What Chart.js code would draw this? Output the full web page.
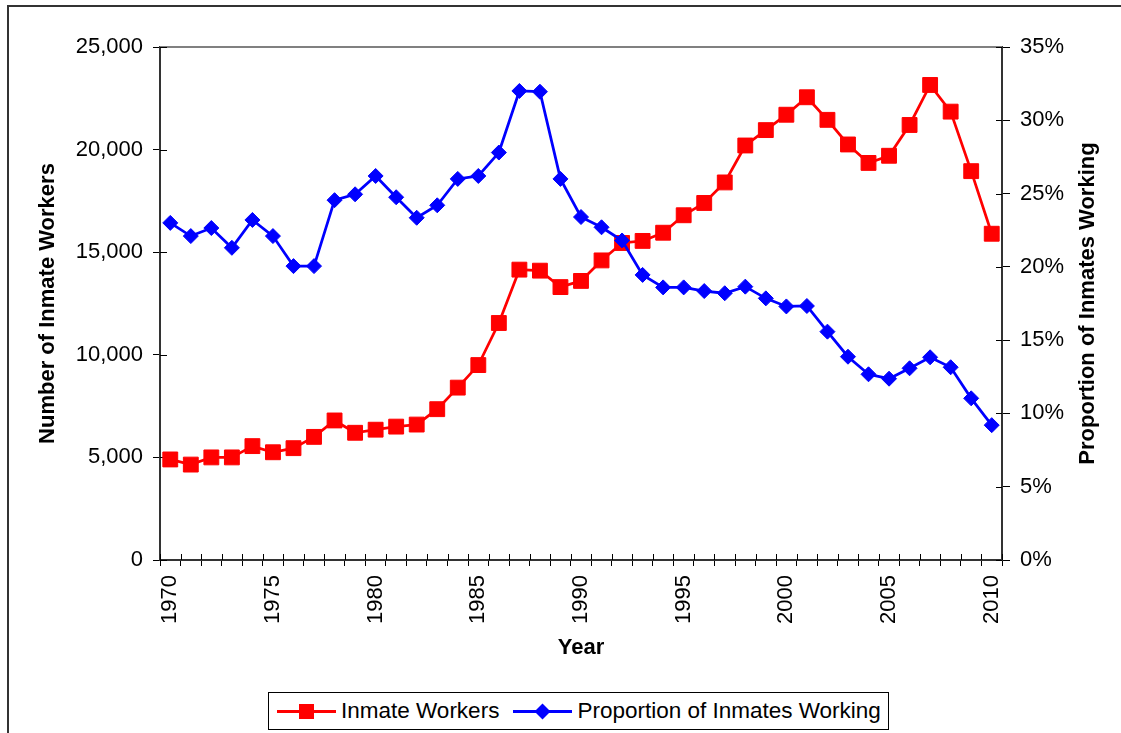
<!DOCTYPE html>
<html>
<head>
<meta charset="utf-8">
<script src="https://cdn.jsdelivr.net/npm/chart.js@4.4.1/dist/chart.umd.min.js"></script>
<style>
  html, body { margin: 0; padding: 0; background: #fff; }
  #wrap { position: relative; width: 1121px; height: 733px; overflow: hidden; font-family: 'Liberation Sans', Arial, sans-serif; }
  #frame { position: absolute; left: 7px; top: 5px; width: 1114px; height: 740px; border-top: 2px solid #333; border-left: 2px solid #333; box-sizing: border-box; }
  #grafico { position: absolute; left: 0; top: 0; }
  #legenda { position: absolute; left: 268px; top: 692px; height: 38px; box-sizing: border-box; border: 1px solid #000;
             display: flex; align-items: center; padding: 0 7px 0 8px; font-size: 22.5px; color: #000; background: #fff; }
  #legenda .item { display: flex; align-items: center; }
  #legenda .item + .item { margin-left: 14px; }
  #legenda svg { margin-right: 5px; }
</style>
</head>
<body>
<div id="wrap">
  <div id="frame"></div>
  <canvas id="grafico" width="1121" height="733"></canvas>
  <div id="legenda"></div>
</div>
<script>
// --- DADOS ---
const years = [1970, 1971, 1972, 1973, 1974, 1975, 1976, 1977, 1978, 1979,
               1980, 1981, 1982, 1983, 1984, 1985, 1986, 1987, 1988, 1989,
               1990, 1991, 1992, 1993, 1994, 1995, 1996, 1997, 1998, 1999,
               2000, 2001, 2002, 2003, 2004, 2005, 2006, 2007, 2008, 2009,
               2010];
const inmateWorkers = [4900, 4650, 5000, 5000, 5550, 5250, 5450, 6000, 6800, 6200,
                       6350, 6500, 6600, 7350, 8400, 9500, 11550, 14150, 14100, 13300,
                       13600, 14600, 15450, 15550, 15950, 16800, 17400, 18400, 20200, 20950,
                       21700, 22550, 21450, 20250, 19350, 19700, 21200, 23150, 21850, 18950,
                       15900];
const proportionWorking = [23.0, 22.1, 22.65, 21.3, 23.2, 22.1, 20.05, 20.05, 24.55, 24.95,
                           26.2, 24.75, 23.35, 24.2, 26.0, 26.2, 27.8, 32.0, 31.95, 26.0,
                           23.4, 22.7, 21.8, 19.45, 18.6, 18.6, 18.35, 18.2, 18.65, 17.85,
                           17.3, 17.33, 15.58, 13.87, 12.67, 12.37, 13.08, 13.83, 13.15, 11.03,
                           9.2];
const seriesLabels = ['Inmate Workers', 'Proportion of Inmates Working'];
const leftTicks = [0, 5000, 10000, 15000, 20000, 25000];
const rightTicks = [0, 5, 10, 15, 20, 25, 30, 35];
const xTitle = 'Year';
const leftTitle = 'Number of Inmate Workers';
const rightTitle = 'Proportion of Inmates Working';

const FONTE = "'Liberation Sans', Arial, sans-serif";
Chart.defaults.font.family = FONTE;
Chart.defaults.font.size = 22;
Chart.defaults.color = '#000';

// --- PLUGIN: borda superior, ticks internos, titulo direito ---
const extrasPlot = {
    id: 'extrasPlot',
    beforeDatasetsDraw(chart) {
        const { ctx, chartArea: a, scales } = chart;
        ctx.save();
        ctx.strokeStyle = '#808080';
        ctx.lineWidth = 2;
        ctx.beginPath();
        ctx.moveTo(a.left, a.top);
        ctx.lineTo(a.right, a.top);
        ctx.stroke();

        // marcas de tick para dentro da area
        ctx.strokeStyle = '#000';
        ctx.lineWidth = 1;
        ctx.beginPath();
        const xs = scales.x;
        const n = years.length;
        for (let i = 0; i <= n; i++) {
            const px = Math.round(xs.left + i * xs.width / n) + 0.5;
            ctx.moveTo(px, a.bottom);
            ctx.lineTo(px, a.bottom - 6);
        }
        scales.y.ticks.forEach(t => {
            const py = Math.round(scales.y.getPixelForValue(t.value)) + 0.5;
            ctx.moveTo(a.left, py);
            ctx.lineTo(a.left + 7, py);
        });
        scales.y2.ticks.forEach(t => {
            const py = Math.round(scales.y2.getPixelForValue(t.value)) + 0.5;
            ctx.moveTo(a.right, py);
            ctx.lineTo(a.right - 6, py);
        });
        ctx.stroke();
        ctx.restore();
    },
    afterDraw(chart) {
        const { ctx, chartArea: a, scales } = chart;
        ctx.save();
        ctx.translate(scales.y2.right - 33, (a.top + a.bottom) / 2);
        ctx.rotate(-Math.PI / 2);
        ctx.font = 'bold 22px ' + FONTE;
        ctx.fillStyle = '#000';
        ctx.textAlign = 'center';
        ctx.textBaseline = 'middle';
        ctx.fillText(rightTitle, 0, 0);
        ctx.restore();
    }
};

const ctx = document.getElementById('grafico').getContext('2d');
const grafico = new Chart(ctx, {
    type: 'line',
    data: {
        labels: years,
        datasets: [
            {
                label: seriesLabels[0],
                data: inmateWorkers,
                yAxisID: 'y',
                borderColor: '#ff0000',
                backgroundColor: '#ff0000',
                borderWidth: 2.75,
                pointStyle: 'rect',
                pointRadius: 10.5,
                pointBorderWidth: 1,
                pointBorderColor: '#ff0000',
                pointBackgroundColor: '#ff0000',
                tension: 0,
                order: 1
            },
            {
                label: seriesLabels[1],
                data: proportionWorking,
                yAxisID: 'y2',
                borderColor: '#0000ff',
                backgroundColor: '#0000ff',
                borderWidth: 2.75,
                pointStyle: 'rectRot',
                pointRadius: 7.5,
                pointBorderWidth: 1,
                pointBorderColor: '#0000ff',
                pointBackgroundColor: '#0000ff',
                tension: 0,
                order: 0
            }
        ]
    },
    options: {
        responsive: false,
        animation: false,
        devicePixelRatio: 1,
        layout: { padding: { left: 0, right: 0, top: 47, bottom: 0 } },
        plugins: { legend: { display: false }, tooltip: { enabled: false } },
        scales: {
            x: {
                type: 'category',
                offset: true,
                grid: { offset: true, drawOnChartArea: false, drawTicks: true, tickLength: 6, color: '#000' },
                border: { color: '#333', width: 2 },
                ticks: {
                    autoSkip: false, maxRotation: 90, minRotation: 90, padding: 9,
                    callback: (v, i) => (years[i] % 5 === 0 ? String(years[i]) : '')
                },
                title: { display: true, text: xTitle, font: { weight: 'bold', size: 22 }, padding: { top: 0, bottom: 72 } },
                afterFit: s => { s.height = 173; }
            },
            y: {
                position: 'left',
                min: 0, max: 25000,
                afterBuildTicks: s => { s.ticks = leftTicks.map(v => ({ value: v })); },
                grid: { drawOnChartArea: false, drawTicks: true, tickLength: 7, color: '#000' },
                border: { color: '#333', width: 2 },
                ticks: { padding: 10, callback: v => v.toLocaleString('en-US') },
                title: { display: true, text: leftTitle, font: { weight: 'bold', size: 22 }, padding: { top: 35, bottom: 0 } },
                afterFit: s => { s.width = 160; }
            },
            y2: {
                position: 'right',
                min: 0, max: 35,
                afterBuildTicks: s => { s.ticks = rightTicks.map(v => ({ value: v })); },
                grid: { drawOnChartArea: false, drawTicks: true, tickLength: 8, color: '#000' },
                border: { color: '#333', width: 2 },
                ticks: { padding: 10, callback: v => v + '%' },
                afterFit: s => { s.width = 119; }
            }
        }
    },
    plugins: [extrasPlot]
});

// --- LEGENDA (HTML) ---
function iconeSerie(cor, estilo) {
    const marcador = estilo === 'rect'
        ? `<rect x="22" y="3" width="15" height="15" fill="${cor}"/>`
        : `<polygon points="29.5,2.5 37.5,10.5 29.5,18.5 21.5,10.5" fill="${cor}"/>`;
    return `<svg width="59" height="21"><line x1="0" y1="10.5" x2="59" y2="10.5" stroke="${cor}" stroke-width="3"/>${marcador}</svg>`;
}
const legenda = document.getElementById('legenda');
grafico.data.datasets.forEach(ds => {
    const item = document.createElement('div');
    item.className = 'item';
    item.innerHTML = iconeSerie(ds.borderColor, ds.pointStyle) + `<span>${ds.label}</span>`;
    legenda.appendChild(item);
});
</script>
</body>
</html>
